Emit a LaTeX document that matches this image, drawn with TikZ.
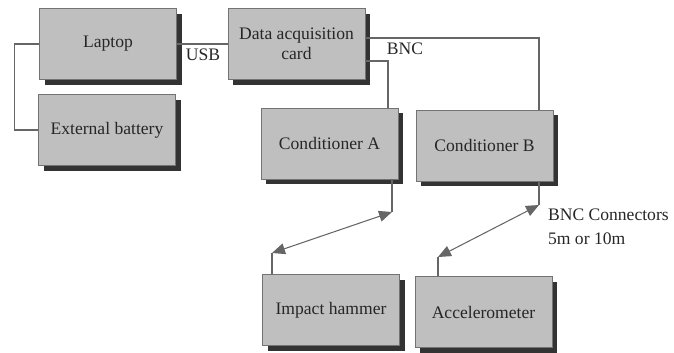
\documentclass[tikz,border=0pt]{standalone}
\usepackage{fontspec}
\setmainfont{Liberation Serif}
\newfontfamily\boxfont{Liberation Serif}
\usetikzlibrary{arrows.meta,shadows}
\begin{document}
\begin{tikzpicture}
[x=0.2mm,y=-0.2mm,
  boxdecorate/.style={shape=rectangle,draw=black!55,fill=black!25,
    minimum width=27.4mm,minimum height=14.2mm,align=center,
    text=black!85,font=\boxfont\fontsize{10}{11.5}\selectfont,
    drop shadow={shadow xshift=1mm,shadow yshift=-1mm,fill=black!80,opacity=1}},%
  linedecorate/.style={-,draw=black!60,semithick},
  arrowdecorate/.style={{Triangle[length=2.6mm,width=2.2mm]}-{Triangle[length=2.6mm,width=2.2mm]},
    draw=black!60,semithick},
  labeldecorate/.style={text=black!85,font=\boxfont\fontsize{10}{11.5}\selectfont,inner sep=1pt}]
\useasboundingbox (0,0) rectangle (674,352);
%% boxes
\foreach \nodename/\x/\y/\nodetext in {laptop/108/44/Laptop,
  battery/107/130/External battery, daq/296.5/44/{Data acquisition\\card},
  condA/329.5/143.5/Conditioner A, condB/484.5/145.5/Conditioner B,
  hammer/331/310/Impact hammer, accel/483.5/312/Accelerometer} {
  \node (\nodename) at (\x,\y) [boxdecorate] {\nodetext};
}
%% bend points of the cables
\coordinate (tapA) at (388,61);
\coordinate (tapB) at (539,38);
\coordinate (bendA) at (392,212);
\coordinate (bendH) at (272,253);
\coordinate (bendB) at (539,205);
\coordinate (bendC) at (438,257);
%% cables
\draw[linedecorate] (laptop.west) -- ++(-25,0) |- (battery.west);
\draw[linedecorate] (laptop.east) -- (daq.west);
\draw[linedecorate] (daq.east |- tapA) -| (condA.north -| tapA);
\draw[linedecorate] (daq.east |- tapB) -| (condB.north -| tapB);
\draw[linedecorate] (condA.south -| bendA) -- (bendA);
\draw[linedecorate] (condB.south -| bendB) -- (bendB);
\draw[linedecorate] (hammer.north -| bendH) -- (bendH);
\draw[linedecorate] (accel.north -| bendC) -- (bendC);
\draw[arrowdecorate] (bendH) -- (bendA);
\draw[arrowdecorate] (bendC) -- (bendB);
%% labels
\node (usb) at (203,55) [labeldecorate] {USB};
\node (bnc) at (405,49) [labeldecorate] {BNC};
\node (bnclen) at (546,227) [labeldecorate,anchor=west,align=left]
  {BNC Connectors\\[2pt]5m or 10m};
\end{tikzpicture}
\end{document}
